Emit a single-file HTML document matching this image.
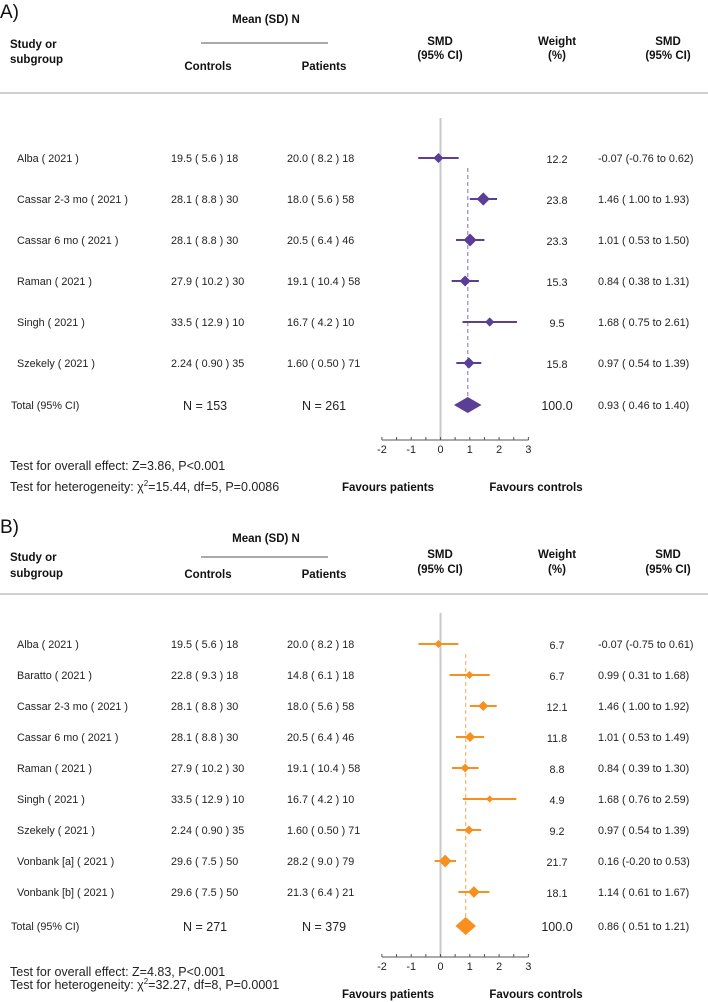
<!DOCTYPE html>
<html><head><meta charset="utf-8">
<style>
html,body{margin:0;padding:0;background:#fff;}
svg{display:block;font-family:"Liberation Sans",Arial,sans-serif;}
.t{font-size:10.8px;fill:#222;}
.h{font-size:11.5px;font-weight:bold;fill:#111;}
.big{font-size:19px;fill:#111;}
</style></head>
<body>
<svg id="chart" width="708" height="1002" viewBox="0 0 708 1002" xmlns="http://www.w3.org/2000/svg"></svg>
<script>
// Panel A data
const studiesA = ["Alba ( 2021 )","Cassar 2-3 mo ( 2021 )","Cassar 6 mo ( 2021 )","Raman ( 2021 )","Singh ( 2021 )","Szekely ( 2021 )"];
const controlsA = ["19.5 ( 5.6 )  18","28.1 ( 8.8 )  30","28.1 ( 8.8 )  30","27.9 ( 10.2 )  30","33.5 ( 12.9 )  10","2.24 ( 0.90 )  35"];
const patientsA = ["20.0  ( 8.2 )  18","18.0  ( 5.6 )  58","20.5  ( 6.4 )  46","19.1  ( 10.4 )  58","16.7  ( 4.2 )  10","1.60  ( 0.50 )  71"];
const smdA = [-0.07,1.46,1.01,0.84,1.68,0.97];
const lowA = [-0.76,1.00,0.53,0.38,0.75,0.54];
const highA = [0.62,1.93,1.50,1.31,2.61,1.39];
const weightA = [12.2,23.8,23.3,15.3,9.5,15.8];
const totalA = [0.93,0.46,1.40];
const nA = [153,261];
// Panel B data
const studiesB = ["Alba ( 2021 )","Baratto ( 2021 )","Cassar 2-3 mo ( 2021 )","Cassar 6 mo ( 2021 )","Raman ( 2021 )","Singh ( 2021 )","Szekely ( 2021 )","Vonbank [a] ( 2021 )","Vonbank [b] ( 2021 )"];
const controlsB = ["19.5 ( 5.6 )  18","22.8 ( 9.3 )  18","28.1 ( 8.8 )  30","28.1 ( 8.8 )  30","27.9 ( 10.2 )  30","33.5 ( 12.9 )  10","2.24 ( 0.90 )  35","29.6 ( 7.5 )  50","29.6 ( 7.5 )  50"];
const patientsB = ["20.0  ( 8.2 )  18","14.8  ( 6.1 )  18","18.0  ( 5.6 )  58","20.5  ( 6.4 )  46","19.1  ( 10.4 )  58","16.7  ( 4.2 )  10","1.60  ( 0.50 )  71","28.2  ( 9.0 )  79","21.3  ( 6.4 )  21"];
const smdB = [-0.07,0.99,1.46,1.01,0.84,1.68,0.97,0.16,1.14];
const lowB = [-0.75,0.31,1.00,0.53,0.39,0.76,0.54,-0.20,0.61];
const highB = [0.61,1.68,1.92,1.49,1.30,2.59,1.39,0.53,1.67];
const weightB = [6.7,6.7,12.1,11.8,8.8,4.9,9.2,21.7,18.1];
const totalB = [0.86,0.51,1.21];
const nB = [271,379];
const ticks = [-2,-1,0,1,2,3];

const NS="http://www.w3.org/2000/svg";
const svg=document.getElementById('chart');
const X0=440.5, U=29.3;
function xs(v){return X0+v*U;}
function mk(tag,attrs,parent){const e=document.createElementNS(NS,tag);for(const k in attrs)e.setAttribute(k,attrs[k]);(parent||svg).appendChild(e);return e;}
function txt(s,x,y,cls,anchor,parent){const e=mk('text',{x:x,y:y,class:cls,'text-anchor':anchor||'start'},parent);e.textContent=s;return e;}
function f2(v){return v.toFixed(2);}
function ci(m,l,h){return f2(m)+" ("+(l<0?f2(l):" "+f2(l))+" to "+f2(h)+")";}

function panel(o){
  const g=mk('g',{});
  
  
  const H=o.hy;
  let e=txt(o.label,0,H.lab,'big','start',g);
  
  e=txt('Mean (SD) N',266,H.mean,'h','middle',g);
  
  e=mk('line',{x1:201,x2:328,y1:H.line,y2:H.line,stroke:'#555','stroke-width':1},g);
  
  txt('Study or',10,H.s1,'h','start',g);
  txt('subgroup',10,H.s2,'h','start',g);
  e=txt('Controls',208,H.ctl,'h','middle',g);
  e=txt('Patients',324,H.ctl,'h','middle',g);
  txt('SMD',440,H.s1-3,'h','middle',g);txt('(95% CI)',440,H.s2-4,'h','middle',g);
  txt('Weight',557,H.s1-3,'h','middle',g);txt('(%)',557,H.s2-4,'h','middle',g);
  txt('SMD',668,H.s1-3,'h','middle',g);txt('(95% CI)',668,H.s2-4,'h','middle',g);
  e=mk('line',{x1:0,x2:708,y1:H.sep,y2:H.sep,stroke:'#d0d0d0','stroke-width':2},g);
  
  e=mk('line',{x1:xs(0),x2:xs(0),y1:o.zeroTop,y2:o.axisY,stroke:'#c8c8c8','stroke-width':2},g);
  
  e=mk('line',{x1:xs(o.total[0]),x2:xs(o.total[0]),y1:o.rows[0]+10,y2:o.totalY,stroke:o.light,'stroke-width':1.2,'stroke-dasharray':'4,3'},g);
  
  for(let i=0;i<o.st.length;i++){
    const y=o.rows[i];
    const r=mk('g',{},g);
    
    
    txt(o.st[i],17,y+4,'t','start',r);
    txt(o.c[i],171,y+4,'t','start',r);
    txt(o.p[i],287,y+4,'t','start',r);
    txt(o.w[i].toFixed(1),557,y+5,'t','middle',r);
    txt(ci(o.m[i],o.l[i],o.h[i]),o.ciX,y+4,'t','start',r);
    const cl=mk('line',{x1:xs(o.l[i]),x2:xs(o.h[i]),y1:y,y2:y,stroke:o.col,'stroke-width':2},r);
    
    
    const s=1.1*Math.sqrt(o.w[i])+1.2, cx=xs(o.m[i]);
    const d=mk('polygon',{points:`${cx-s},${y} ${cx},${y-s} ${cx+s},${y} ${cx},${y+s}`,fill:o.col},r);
    
    
  }
  const ty=o.totalY;
  txt('Total (95% CI)',11,ty+4,'t','start',g);
  txt('N =  '+o.n[0],o.nX[0],ty+5,'t','start',g).style.fontSize='12.5px';
  txt('N =  '+o.n[1],o.nX[1],ty+5,'t','start',g).style.fontSize='12.5px';
  txt('100.0',557,ty+5,'t','middle',g).style.fontSize='12.5px';
  txt(ci(o.total[0],o.total[1],o.total[2]),o.ciX,ty+4,'t','start',g);
  const dh=o.dh;
  e=mk('polygon',{points:`${xs(o.total[1])},${ty} ${xs(o.total[0])},${ty-dh} ${xs(o.total[2])},${ty} ${xs(o.total[0])},${ty+dh}`,fill:o.col},g);
  
  const ax=mk('g',{},g);
  
  
  mk('line',{x1:xs(ticks[0]),x2:xs(ticks[ticks.length-1]),y1:o.axisY,y2:o.axisY,stroke:'#555','stroke-width':1},ax);
  for(let v=ticks[0];v<=ticks[ticks.length-1]+0.001;v+=0.5){
    mk('line',{x1:xs(v),x2:xs(v),y1:o.axisY,y2:o.axisY-3,stroke:'#555','stroke-width':1},ax);
  }
  ticks.forEach(t=>{const tl=txt(String(t),xs(t),o.axisY+13,'t','middle',ax);});
  e=txt('Test for overall effect: '+o.test1,10,o.t1,'t','start',g);
  e.style.fontSize='12.5px';
  const het=mk('text',{x:10,y:o.t2,class:'t'},g);het.style.fontSize='12.5px';
  
  het.appendChild(document.createTextNode('Test for heterogeneity: χ'));
  const sup=mk('tspan',{dy:-5,'font-size':'8px'},het);sup.textContent='2';
  const rest=mk('tspan',{dy:5},het);rest.textContent=o.test2;
  e=txt('Favours patients',388,o.fav,'h','middle',g);
  e=txt('Favours controls',536,o.fav,'h','middle',g);
}

const rowsA=studiesA.map((_,i)=>158+i*41);
panel({name:'panel-a',label:'A)',hy:{lab:18,mean:23,line:43,s1:48,s2:63,ctl:70,sep:93},
  st:studiesA,c:controlsA,p:patientsA,m:smdA,l:lowA,h:highA,w:weightA,total:totalA,n:nA,
  rows:rowsA,totalY:405,dh:8,zeroTop:118,axisY:440,col:'#5b3e96',light:'#9a85cc',ciX:598,nX:[183,302],
  test1:'Z=3.86, P<0.001',test2:'=15.44, df=5, P=0.0086',t1:470,t2:491,fav:491});
const rowsB=studiesB.map((_,i)=>644+i*31);
panel({name:'panel-b',label:'B)',hy:{lab:533,mean:542,line:557,s1:561,s2:577,ctl:578,sep:594},
  st:studiesB,c:controlsB,p:patientsB,m:smdB,l:lowB,h:highB,w:weightB,total:totalB,n:nB,
  rows:rowsB,totalY:926,dh:9,zeroTop:613,axisY:957,col:'#f7901e',light:'#fbb46a',ciX:598,nX:[183,302],
  test1:'Z=4.83, P<0.001',test2:'=32.27, df=8, P=0.0001',t1:976,t2:989,fav:998});
</script>
</body></html>
